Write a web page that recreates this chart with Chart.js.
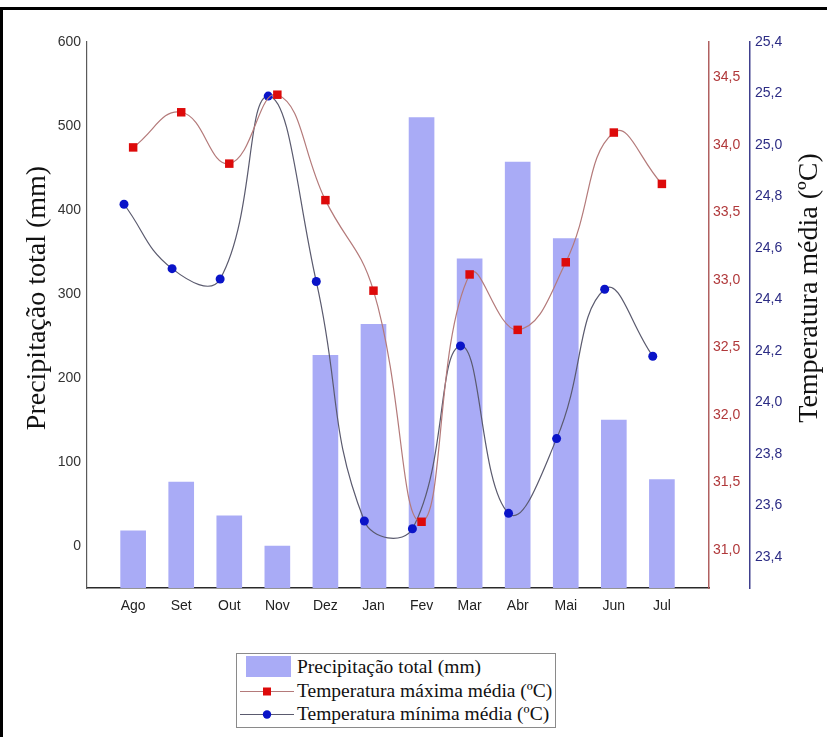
<!DOCTYPE html>
<html>
<head>
<meta charset="utf-8">
<script src="https://cdn.jsdelivr.net/npm/chart.js@4/dist/chart.umd.min.js"></script>
<style>
  html, body { margin: 0; padding: 0; background: #fff; }
  #wrap { position: relative; width: 827px; height: 737px; overflow: hidden; background: #fff; }
  #frame { position: absolute; left: 0; top: 7px; width: 900px; height: 800px;
           border-left: 3px solid #000; border-top: 3px solid #000; box-sizing: border-box; }
  #chart { position: absolute; left: 0; top: 0; }
  #legend { position: absolute; left: 236px; top: 653px; width: 320px; height: 75px;
            border: 1px solid #8a8a8a; box-sizing: border-box; background: #fff;
            font-family: "Liberation Serif", "Times New Roman", serif; font-size: 19.5px; color: #111; }
  .row { position: absolute; left: 0; height: 23px; width: 100%; }
  .sym { position: absolute; left: 3px; top: 0; width: 54px; height: 23px; }
  .txt { position: absolute; left: 60px; top: 0; line-height: 23px; white-space: nowrap; }
</style>
</head>
<body>
<div id="wrap">
  <div id="frame"></div>
  <canvas id="chart" width="827" height="737"></canvas>
  <div id="legend"></div>
</div>
<script>
// Monthly climate series (Aug → Jul)
const months = ['Ago', 'Set', 'Out', 'Nov', 'Dez', 'Jan', 'Fev', 'Mar', 'Abr', 'Mai', 'Jun', 'Jul'];
const precipitacao = [18, 76, 36, 0, 227, 264, 510, 342, 457, 366, 150, 79];
const tempMaxima = [33.98, 34.24, 33.86, 34.37, 33.59, 32.92, 31.21, 33.04, 32.63, 33.13, 34.09, 33.71];
const tempMinima = [24.77, 24.52, 24.48, 25.19, 24.47, 23.54, 23.51, 24.22, 23.57, 23.86, 24.44, 24.18];

// Tick values for each axis
const precipTicks = [0, 100, 200, 300, 400, 500, 600];
const maxTicks = [31.0, 31.5, 32.0, 32.5, 33.0, 33.5, 34.0, 34.5];
const minTicks = [23.4, 23.6, 23.8, 24.0, 24.2, 24.4, 24.6, 24.8, 25.0, 25.2, 25.4];

const labelPrecip = 'Precipitação total (mm)';
const labelMax = 'Temperatura máxima média (ºC)';
const labelMin = 'Temperatura mínima média (ºC)';
const titleLeft = 'Precipitação total (mm)';
const titleRight = 'Temperatura média (ºC)';

// minimum-temperature markers sit slightly left of the month centre
const MIN_SHIFT = -0.19;

const BAR_COLOR = '#a9abf6';
const MAX_LINE = '#b47a7a';
const MAX_POINT = '#dd0a0a';
const MIN_LINE = '#5a5a6e';
const MIN_POINT = '#0a14c8';

const tickFont = { family: '"Liberation Sans", Arial, sans-serif', size: 14 };
const comma = v => Number(v).toFixed(1).replace('.', ',');
const fixedTicks = arr => scale => { scale.ticks = arr.map(v => ({ value: v })); };

const axisTitles = {
  id: 'axisTitles',
  afterDraw(chart) {
    const { ctx, chartArea } = chart;
    const draw = (text, x, y) => {
      ctx.save();
      ctx.fillStyle = '#111';
      ctx.font = '28px "Liberation Serif", "Times New Roman", serif';
      ctx.textAlign = 'center';
      ctx.textBaseline = 'middle';
      ctx.translate(x, y);
      ctx.rotate(-Math.PI / 2);
      ctx.fillText(text, 0, 0);
      ctx.restore();
    };
    draw(titleLeft, chartArea.left - 49, chartArea.top + 256);
    draw(titleRight, chartArea.right + 101, chartArea.top + 246);
  }
};

const chart = new Chart(document.getElementById('chart'), {
  data: {
    datasets: [
      {
        type: 'line',
        label: labelMax,
        data: tempMaxima.map((v, i) => ({ x: i, y: v })),
        yAxisID: 'yMax',
        borderColor: MAX_LINE,
        borderWidth: 1.2,
        tension: 0.45,
        pointStyle: 'rect',
        pointRadius: 6,
        pointBackgroundColor: MAX_POINT,
        pointBorderColor: MAX_POINT,
        pointBorderWidth: 0,
        order: 1
      },
      {
        type: 'line',
        label: labelMin,
        data: tempMinima.map((v, i) => ({ x: i + MIN_SHIFT, y: v })),
        yAxisID: 'yMin',
        borderColor: MIN_LINE,
        borderWidth: 1.2,
        tension: 0.45,
        pointStyle: 'circle',
        pointRadius: 4.5,
        pointBackgroundColor: MIN_POINT,
        pointBorderColor: MIN_POINT,
        pointBorderWidth: 0,
        order: 2
      },
      {
        type: 'bar',
        label: labelPrecip,
        data: precipitacao.map((v, i) => ({ x: i, y: v })),
        yAxisID: 'y',
        base: -50,
        backgroundColor: BAR_COLOR,
        barThickness: 25,
        order: 3
      }
    ]
  },
  options: {
    responsive: false,
    animation: false,
    events: [],
    layout: { padding: { left: 0, right: 0, top: 42, bottom: 119 } },
    plugins: { legend: { display: false }, tooltip: { enabled: false } },
    scales: {
      x: {
        type: 'linear',
        position: 'bottom',
        offset: false,
        min: -0.96,
        max: 11.98,
        grid: { display: false, drawTicks: false, offset: false },
        border: { color: '#2a2a2a', width: 1.5 },
        afterBuildTicks: fixedTicks(months.map((m, i) => i)),
        afterFit: s => { s.height = 30; },
        ticks: {
          font: tickFont, color: '#222', padding: 10, maxRotation: 0, autoSkip: false,
          callback: v => months[v]
        }
      },
      y: {
        type: 'linear',
        position: 'left',
        min: -50,
        max: 600,
        grid: { display: false, drawTicks: false },
        border: { color: '#5a5a5a', width: 1.2 },
        afterBuildTicks: fixedTicks(precipTicks),
        afterFit: s => { s.width = 87; },
        ticks: { font: tickFont, color: '#333', padding: 6 }
      },
      yMax: {
        type: 'linear',
        position: 'right',
        weight: 0,
        min: 30.72,
        max: 34.76,
        grid: { display: false, drawTicks: false },
        border: { color: '#b06060', width: 1.5 },
        afterBuildTicks: fixedTicks(maxTicks),
        afterFit: s => { s.width = 41; },
        ticks: { font: tickFont, color: '#b0383a', padding: 4, callback: comma }
      },
      yMin: {
        type: 'linear',
        position: 'right',
        weight: 1,
        min: 23.28,
        max: 25.40,
        grid: { display: false, drawTicks: false },
        border: { color: '#40408e', width: 1.5 },
        afterBuildTicks: fixedTicks(minTicks),
        afterFit: s => { s.width = 77; },
        ticks: { font: tickFont, color: '#2c2c84', padding: 5, callback: comma }
      }
    }
  },
  plugins: [axisTitles]
});

// Legend box built from the dataset labels and colours
(function buildLegend() {
  const box = document.getElementById('legend');
  const rows = [
    { label: labelPrecip, kind: 'bar' },
    { label: labelMax, kind: 'rect' },
    { label: labelMin, kind: 'circle' }
  ];
  rows.forEach((r, i) => {
    const row = document.createElement('div');
    row.className = 'row';
    row.style.top = (1 + i * 23.5) + 'px';
    const sym = document.createElement('canvas');
    sym.className = 'sym';
    sym.width = 54; sym.height = 23;
    const c = sym.getContext('2d');
    if (r.kind === 'bar') {
      c.fillStyle = BAR_COLOR;
      c.fillRect(6, 1, 45, 21);
    } else {
      const line = r.kind === 'rect' ? MAX_LINE : MIN_LINE;
      const pt = r.kind === 'rect' ? MAX_POINT : MIN_POINT;
      c.strokeStyle = line; c.lineWidth = 1.2;
      c.beginPath(); c.moveTo(0, 12.5); c.lineTo(54, 12.5); c.stroke();
      c.fillStyle = pt;
      if (r.kind === 'rect') { c.fillRect(23, 8.5, 8, 8); }
      else { c.beginPath(); c.arc(27, 12.5, 4.2, 0, Math.PI * 2); c.fill(); }
    }
    const t = document.createElement('div');
    t.className = 'txt';
    t.textContent = r.label;
    row.appendChild(sym);
    row.appendChild(t);
    box.appendChild(row);
  });
})();
</script>
</body>
</html>
